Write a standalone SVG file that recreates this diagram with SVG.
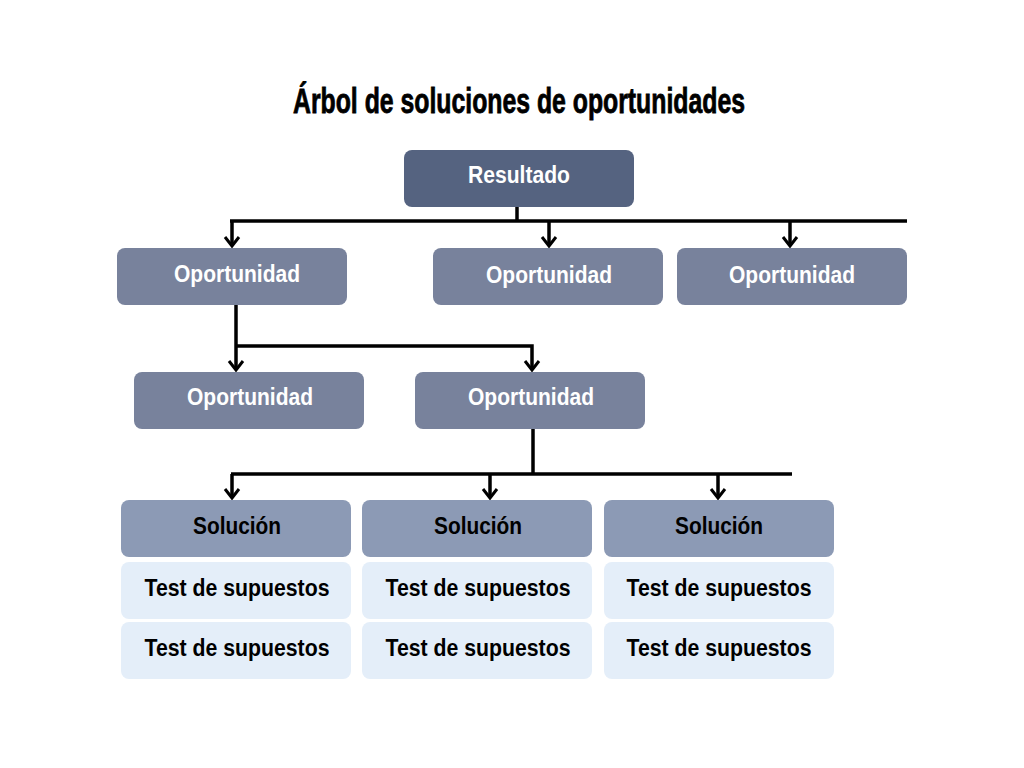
<svg xmlns="http://www.w3.org/2000/svg" width="1024" height="768" viewBox="0 0 1024 768">
<style>
.t{font-family:"Liberation Sans",Arial,sans-serif;font-weight:bold;font-size:23px;text-anchor:middle}
.w{fill:#ffffff}
.k{fill:#000000}
.res{fill:#556380}
.op{fill:#78829c}
.sol{fill:#8c9ab5}
.ts{fill:#e4eef9}
.ln{fill:none;stroke:#000;stroke-width:3.5}
</style>
<defs>
<marker id="ah" markerUnits="userSpaceOnUse" markerWidth="20" markerHeight="20" refX="14" refY="10" orient="auto" viewBox="0 0 20 20">
<path d="M5,3 L14,10 L5,17" fill="none" stroke="#000" stroke-width="3"/>
</marker>
</defs>
<rect width="1024" height="768" fill="#ffffff"/>
<text x="519" y="113" font-family="Liberation Sans,Arial,sans-serif" font-weight="bold" font-size="35" text-anchor="middle" textLength="452" lengthAdjust="spacingAndGlyphs" stroke="#000" stroke-width="0.8">Árbol de soluciones de oportunidades</text>
<g id="connectors">
<path class="ln" d="M517,207 V221"/>
<path class="ln" d="M230,221 H907"/>
<path class="ln" d="M232,221 V246" marker-end="url(#ah)"/>
<path class="ln" d="M549,221 V246" marker-end="url(#ah)"/>
<path class="ln" d="M790,221 V246" marker-end="url(#ah)"/>
<path class="ln" d="M236,305 V370" marker-end="url(#ah)"/>
<path class="ln" d="M236,346 H532 V370" marker-end="url(#ah)"/>
<path class="ln" d="M533,429 V474"/>
<path class="ln" d="M231,474 H792"/>
<path class="ln" d="M232,474 V498" marker-end="url(#ah)"/>
<path class="ln" d="M490,474 V498" marker-end="url(#ah)"/>
<path class="ln" d="M718,474 V498" marker-end="url(#ah)"/>
</g>
<g id="resultado"><rect class="res" x="404" y="150" width="230" height="57" rx="8"/><text class="t w" x="519" y="183" textLength="102" lengthAdjust="spacingAndGlyphs">Resultado</text></g>
<g id="op1"><rect class="op" x="117" y="248" width="230" height="57" rx="8"/><text class="t w" x="237" y="282" textLength="126" lengthAdjust="spacingAndGlyphs">Oportunidad</text></g>
<g id="op2"><rect class="op" x="433" y="248" width="230" height="57" rx="8"/><text class="t w" x="549" y="283" textLength="126" lengthAdjust="spacingAndGlyphs">Oportunidad</text></g>
<g id="op3"><rect class="op" x="677" y="248" width="230" height="57" rx="8"/><text class="t w" x="792" y="283" textLength="126" lengthAdjust="spacingAndGlyphs">Oportunidad</text></g>
<g id="op4"><rect class="op" x="134" y="372" width="230" height="57" rx="8"/><text class="t w" x="250" y="405" textLength="126" lengthAdjust="spacingAndGlyphs">Oportunidad</text></g>
<g id="op5"><rect class="op" x="415" y="372" width="230" height="57" rx="8"/><text class="t w" x="531" y="405" textLength="126" lengthAdjust="spacingAndGlyphs">Oportunidad</text></g>
<g id="sol1"><rect class="sol" x="121" y="500" width="230" height="57" rx="8"/><text class="t k" x="237" y="534" textLength="88" lengthAdjust="spacingAndGlyphs">Solución</text></g>
<g id="sol2"><rect class="sol" x="362" y="500" width="230" height="57" rx="8"/><text class="t k" x="478" y="534" textLength="88" lengthAdjust="spacingAndGlyphs">Solución</text></g>
<g id="sol3"><rect class="sol" x="604" y="500" width="230" height="57" rx="8"/><text class="t k" x="719" y="534" textLength="88" lengthAdjust="spacingAndGlyphs">Solución</text></g>
<g id="test1a"><rect class="ts" x="121" y="562" width="230" height="57" rx="8"/><text class="t k" x="237" y="596" textLength="185" lengthAdjust="spacingAndGlyphs">Test de supuestos</text></g>
<g id="test2a"><rect class="ts" x="362" y="562" width="230" height="57" rx="8"/><text class="t k" x="478" y="596" textLength="185" lengthAdjust="spacingAndGlyphs">Test de supuestos</text></g>
<g id="test3a"><rect class="ts" x="604" y="562" width="230" height="57" rx="8"/><text class="t k" x="719" y="596" textLength="185" lengthAdjust="spacingAndGlyphs">Test de supuestos</text></g>
<g id="test1b"><rect class="ts" x="121" y="622" width="230" height="57" rx="8"/><text class="t k" x="237" y="656" textLength="185" lengthAdjust="spacingAndGlyphs">Test de supuestos</text></g>
<g id="test2b"><rect class="ts" x="362" y="622" width="230" height="57" rx="8"/><text class="t k" x="478" y="656" textLength="185" lengthAdjust="spacingAndGlyphs">Test de supuestos</text></g>
<g id="test3b"><rect class="ts" x="604" y="622" width="230" height="57" rx="8"/><text class="t k" x="719" y="656" textLength="185" lengthAdjust="spacingAndGlyphs">Test de supuestos</text></g>
</svg>
